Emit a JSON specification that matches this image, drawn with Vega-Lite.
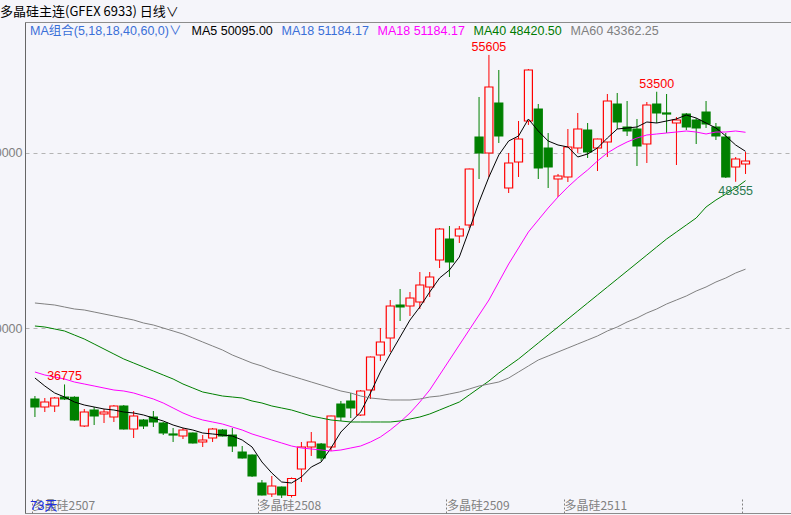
{
  "$schema": "https://vega.github.io/schema/vega-lite/v6.json",
  "width": 766,
  "height": 491,
  "autosize": {"type": "none"},
  "padding": {"left": 25, "top": 22, "right": 0, "bottom": 2},
  "background": "#f5f5fa",
  "config": {"view": {"stroke": "#8c8c8c", "fill": "#f5f5fa"}, "font": "Liberation Sans"},
  "title": {"text": "多晶硅主连(GFEX 6933)  日线∨", "anchor": "start", "frame": "group", "dx": -25, "offset": 3, "fontSize": 13, "fontWeight": "normal", "font": "Noto Sans CJK SC", "color": "#000000"},
  "datasets": {
    "k": [
      {"i":0,"o":35943,"h":36114,"l":34914,"c":35486,"MA5":37143,"MA18":37486,"MA40":40114,"MA60":41429},
      {"i":1,"o":35486,"h":36000,"l":35200,"c":35771,"MA5":36686,"MA18":37314,"MA40":40057,"MA60":41371},
      {"i":2,"o":35543,"h":36057,"l":35200,"c":36000,"MA5":36286,"MA18":37200,"MA40":39943,"MA60":41314},
      {"i":3,"o":36057,"h":36775,"l":35886,"c":35943,"MA5":36057,"MA18":37086,"MA40":39829,"MA60":41200},
      {"i":4,"o":36040,"h":36100,"l":34700,"c":34743,"MA5":35771,"MA18":36914,"MA40":39600,"MA60":41086},
      {"i":5,"o":34400,"h":35371,"l":34343,"c":35200,"MA5":35600,"MA18":36800,"MA40":39371,"MA60":41029},
      {"i":6,"o":35314,"h":35486,"l":34457,"c":34971,"MA5":35486,"MA18":36686,"MA40":39086,"MA60":40914},
      {"i":7,"o":35086,"h":35371,"l":34571,"c":35200,"MA5":35371,"MA18":36571,"MA40":38800,"MA60":40800},
      {"i":8,"o":34914,"h":35600,"l":34629,"c":35543,"MA5":35314,"MA18":36457,"MA40":38514,"MA60":40686},
      {"i":9,"o":35543,"h":35600,"l":34200,"c":34229,"MA5":35200,"MA18":36400,"MA40":38229,"MA60":40571},
      {"i":10,"o":34229,"h":35257,"l":33714,"c":34971,"MA5":35143,"MA18":36286,"MA40":38000,"MA60":40457},
      {"i":11,"o":34743,"h":34800,"l":34229,"c":34400,"MA5":35029,"MA18":36114,"MA40":37771,"MA60":40286},
      {"i":12,"o":34914,"h":35257,"l":34343,"c":34629,"MA5":34857,"MA18":35943,"MA40":37543,"MA60":40171},
      {"i":13,"o":34571,"h":34629,"l":33886,"c":34000,"MA5":34686,"MA18":35714,"MA40":37314,"MA60":40000},
      {"i":14,"o":33943,"h":34286,"l":33486,"c":33886,"MA5":34457,"MA18":35429,"MA40":37086,"MA60":39829},
      {"i":15,"o":33829,"h":34286,"l":33657,"c":34171,"MA5":34286,"MA18":35143,"MA40":36800,"MA60":39657},
      {"i":16,"o":34000,"h":34030,"l":33400,"c":33429,"MA5":34171,"MA18":34914,"MA40":36571,"MA60":39429},
      {"i":17,"o":33486,"h":33886,"l":33200,"c":33600,"MA5":34000,"MA18":34743,"MA40":36343,"MA60":39200},
      {"i":18,"o":33714,"h":34286,"l":33486,"c":34229,"MA5":33943,"MA18":34629,"MA40":36229,"MA60":38971},
      {"i":19,"o":34171,"h":34229,"l":33800,"c":33829,"MA5":33886,"MA18":34514,"MA40":36114,"MA60":38743},
      {"i":20,"o":33886,"h":34286,"l":32914,"c":33257,"MA5":33829,"MA18":34343,"MA40":36057,"MA60":38457},
      {"i":21,"o":32914,"h":33257,"l":32540,"c":32571,"MA5":33600,"MA18":34171,"MA40":36000,"MA60":38229},
      {"i":22,"o":32743,"h":32770,"l":31486,"c":31543,"MA5":33200,"MA18":33943,"MA40":35829,"MA60":38000},
      {"i":23,"o":31143,"h":31314,"l":30430,"c":30457,"MA5":32343,"MA18":33771,"MA40":35714,"MA60":37829},
      {"i":24,"o":30514,"h":31543,"l":30343,"c":30971,"MA5":31714,"MA18":33600,"MA40":35543,"MA60":37600},
      {"i":25,"o":30914,"h":30940,"l":30286,"c":30457,"MA5":31200,"MA18":33429,"MA40":35429,"MA60":37429},
      {"i":26,"o":30429,"h":31457,"l":30314,"c":31400,"MA5":31143,"MA18":33257,"MA40":35314,"MA60":37257},
      {"i":27,"o":31943,"h":33486,"l":31200,"c":33200,"MA5":31486,"MA18":33143,"MA40":35143,"MA60":37086},
      {"i":28,"o":33200,"h":34057,"l":32686,"c":33486,"MA5":32057,"MA18":33086,"MA40":34971,"MA60":36914},
      {"i":29,"o":33371,"h":33429,"l":32400,"c":32571,"MA5":32343,"MA18":33029,"MA40":34857,"MA60":36743},
      {"i":30,"o":33200,"h":34990,"l":32971,"c":34971,"MA5":33143,"MA18":32971,"MA40":34743,"MA60":36571},
      {"i":31,"o":35657,"h":35829,"l":34686,"c":34914,"MA5":34057,"MA18":33029,"MA40":34686,"MA60":36400},
      {"i":32,"o":35829,"h":36286,"l":34857,"c":35429,"MA5":34629,"MA18":33143,"MA40":34629,"MA60":36286},
      {"i":33,"o":35029,"h":36457,"l":34971,"c":36400,"MA5":35200,"MA18":33257,"MA40":34629,"MA60":36114},
      {"i":34,"o":36457,"h":38370,"l":35943,"c":38343,"MA5":36286,"MA18":33486,"MA40":34629,"MA60":36000},
      {"i":35,"o":38457,"h":40000,"l":38114,"c":39200,"MA5":37486,"MA18":33771,"MA40":34629,"MA60":35943},
      {"i":36,"o":39429,"h":41600,"l":38629,"c":41257,"MA5":38514,"MA18":34171,"MA40":34629,"MA60":35886},
      {"i":37,"o":41314,"h":42229,"l":40400,"c":41200,"MA5":39486,"MA18":34629,"MA40":34686,"MA60":35886},
      {"i":38,"o":41257,"h":42057,"l":40686,"c":41714,"MA5":40457,"MA18":35143,"MA40":34800,"MA60":35886},
      {"i":39,"o":41486,"h":43200,"l":41086,"c":42457,"MA5":41200,"MA18":35771,"MA40":34914,"MA60":35943},
      {"i":40,"o":42343,"h":43200,"l":41771,"c":42914,"MA5":42057,"MA18":36457,"MA40":35086,"MA60":36057},
      {"i":41,"o":43886,"h":45714,"l":43429,"c":45657,"MA5":42857,"MA18":37314,"MA40":35314,"MA60":36114},
      {"i":42,"o":45086,"h":45829,"l":42914,"c":43771,"MA5":43314,"MA18":38171,"MA40":35543,"MA60":36229},
      {"i":43,"o":45257,"h":45829,"l":44857,"c":45657,"MA5":44057,"MA18":39029,"MA40":35771,"MA60":36343},
      {"i":44,"o":45886,"h":49110,"l":45714,"c":49086,"MA5":45600,"MA18":39886,"MA40":36171,"MA60":36514},
      {"i":45,"o":50914,"h":53200,"l":48514,"c":50000,"MA5":47200,"MA18":40743,"MA40":36571,"MA60":36686},
      {"i":46,"o":50000,"h":55605,"l":48629,"c":53771,"MA5":48629,"MA18":41600,"MA40":36971,"MA60":36800},
      {"i":47,"o":52857,"h":54743,"l":50571,"c":50971,"MA5":49886,"MA18":42629,"MA40":37429,"MA60":36914},
      {"i":48,"o":48000,"h":50000,"l":47714,"c":49429,"MA5":50686,"MA18":43657,"MA40":37829,"MA60":37143},
      {"i":49,"o":49486,"h":51829,"l":48629,"c":50800,"MA5":50971,"MA18":44571,"MA40":38229,"MA60":37486},
      {"i":50,"o":51829,"h":54800,"l":51600,"c":54743,"MA5":51943,"MA18":45486,"MA40":38686,"MA60":37829},
      {"i":51,"o":52514,"h":52800,"l":48514,"c":49143,"MA5":51257,"MA18":46171,"MA40":39143,"MA60":38171},
      {"i":52,"o":50286,"h":51143,"l":48000,"c":49200,"MA5":50686,"MA18":46857,"MA40":39600,"MA60":38400},
      {"i":53,"o":48514,"h":48800,"l":47486,"c":48686,"MA5":50457,"MA18":47486,"MA40":40057,"MA60":38629},
      {"i":54,"o":48629,"h":51371,"l":48343,"c":50343,"MA5":50343,"MA18":48057,"MA40":40514,"MA60":38857},
      {"i":55,"o":50286,"h":52286,"l":50000,"c":51371,"MA5":49771,"MA18":48571,"MA40":40971,"MA60":39086},
      {"i":56,"o":51314,"h":51714,"l":49714,"c":50057,"MA5":49943,"MA18":49029,"MA40":41429,"MA60":39314},
      {"i":57,"o":50286,"h":50820,"l":48971,"c":50800,"MA5":50286,"MA18":49543,"MA40":41886,"MA60":39543},
      {"i":58,"o":50629,"h":53371,"l":49771,"c":52971,"MA5":50857,"MA18":50000,"MA40":42343,"MA60":39829},
      {"i":59,"o":52800,"h":53429,"l":51371,"c":51771,"MA5":51371,"MA18":50343,"MA40":42800,"MA60":40057},
      {"i":60,"o":51486,"h":52971,"l":50971,"c":51257,"MA5":51429,"MA18":50629,"MA40":43257,"MA60":40343},
      {"i":61,"o":51371,"h":51943,"l":49257,"c":50400,"MA5":51486,"MA18":50857,"MA40":43714,"MA60":40571},
      {"i":62,"o":50514,"h":52914,"l":49429,"c":52743,"MA5":51771,"MA18":51029,"MA40":44171,"MA60":40857},
      {"i":63,"o":52800,"h":53500,"l":51714,"c":52286,"MA5":51714,"MA18":51086,"MA40":44629,"MA60":41086},
      {"i":64,"o":52286,"h":53371,"l":51143,"c":52229,"MA5":51829,"MA18":51143,"MA40":45086,"MA60":41371},
      {"i":65,"o":51714,"h":52057,"l":49314,"c":51886,"MA5":51943,"MA18":51200,"MA40":45486,"MA60":41600},
      {"i":66,"o":52229,"h":52286,"l":51314,"c":51486,"MA5":52171,"MA18":51257,"MA40":45886,"MA60":41829},
      {"i":67,"o":51886,"h":52000,"l":50514,"c":51429,"MA5":52000,"MA18":51200,"MA40":46286,"MA60":42114},
      {"i":68,"o":52343,"h":52971,"l":51429,"c":51657,"MA5":51714,"MA18":51086,"MA40":46914,"MA60":42343},
      {"i":69,"o":51486,"h":51714,"l":50743,"c":50971,"MA5":51429,"MA18":51200,"MA40":47314,"MA60":42629},
      {"i":70,"o":50914,"h":51143,"l":48571,"c":48629,"MA5":50971,"MA18":51200,"MA40":47657,"MA60":42857},
      {"i":71,"o":49200,"h":49771,"l":48355,"c":49657,"MA5":50457,"MA18":51257,"MA40":48000,"MA60":43143},
      {"i":72,"o":49371,"h":50057,"l":48800,"c":49543,"MA5":50095,"MA18":51184.17,"MA40":48420.5,"MA60":43362.25}
    ],
    "peaks": [{"i":3,"p":36775},{"i":46,"p":55605},{"i":63,"p":53500}],
    "troughs": [{"i":71,"p":48355}],
    "days": [{"t":"73天"}]
  },
  "data": {"name": "k"},
  "layer": [
    {
      "mark": {"type": "rule", "strokeWidth": 1},
      "encoding": {
        "x": {"field": "i", "type": "quantitative", "scale": {"domain": [-0.5, 76.1], "nice": false, "zero": false},
          "axis": {"values": [-0.3, 22.6, 41.7, 53.6, 71.6], "labelExpr": "datum.value < 0 ? '多晶硅2507' : datum.value < 30 ? '多晶硅2508' : datum.value < 50 ? '多晶硅2509' : datum.value < 60 ? '多晶硅2511' : ''", "title": null, "domain": false, "grid": false, "tickSize": -14, "tickDash": [2, 2], "tickColor": "#808080", "labelAlign": "left", "labelBaseline": "alphabetic", "labelPadding": 10, "labelColor": "#808080", "labelFont": "Noto Sans CJK SC", "labelFontSize": 12, "labelFlush": false, "labelOverlap": false, "labelBound": false}},
        "y": {"field": "l", "type": "quantitative", "scale": {"domain": [29428.6, 57485.7], "nice": false, "zero": false},
          "axis": {"values": [40000, 50000], "title": null, "grid": true, "gridDash": [4, 4], "gridColor": "#b4b4b4", "domain": true, "domainColor": "#666666", "ticks": false, "labelColor": "#808080", "labelFontSize": 12.5, "labelPadding": 3, "format": "d"}},
        "y2": {"field": "h"},
        "color": {"condition": {"test": "datum.c >= datum.o", "value": "#ff0000"}, "value": "#008000"}
      }
    },
    {
      "mark": {"type": "bar", "width": 8, "strokeWidth": 1.2},
      "encoding": {
        "x": {"field": "i", "type": "quantitative"},
        "y": {"field": "o", "type": "quantitative"},
        "y2": {"field": "c"},
        "fill": {"condition": {"test": "datum.c >= datum.o", "value": "#f5f5fa"}, "value": "#008000"},
        "stroke": {"condition": {"test": "datum.c >= datum.o", "value": "#ff0000"}, "value": "#008000"}
      }
    },
    {
      "transform": [{"fold": ["MA5", "MA18", "MA40", "MA60"], "as": ["series", "value"]}],
      "mark": {"type": "line", "strokeWidth": 1},
      "encoding": {
        "x": {"field": "i", "type": "quantitative"},
        "y": {"field": "value", "type": "quantitative"},
        "color": {"field": "series", "type": "nominal",
          "scale": {"domain": ["MA5", "MA18 ", "MA18", "MA40", "MA60"], "range": ["#000000", "#3a6fd8", "#ff00ff", "#008000", "#808080"]},
          "legend": {"title": "MA组合(5,18,18,40,60,0)∨", "orient": "none", "legendX": 5, "legendY": 3, "direction": "horizontal", "gridAlign": "none", "titleOrient": "left", "titleColor": "#3a6fd8", "titleFontSize": 12.5, "titleFontWeight": "normal", "titleFont": "Liberation Sans, Noto Sans CJK SC", "titlePadding": 9, "titleBaseline": "middle", "labelFontSize": 12.5, "labelFont": "Liberation Sans", "labelExpr": "datum.value == 'MA5' ? 'MA5 50095.00' : datum.value == 'MA40' ? 'MA40 48420.50' : datum.value == 'MA60' ? 'MA60 43362.25' : 'MA18 51184.17'", "labelColor": {"expr": "datum.value == 'MA5' ? '#000000' : datum.value == 'MA18 ' ? '#3a6fd8' : datum.value == 'MA18' ? '#ff00ff' : datum.value == 'MA40' ? '#007a00' : '#808080'"}, "symbolSize": 0, "symbolOpacity": 0, "symbolStrokeWidth": 0, "labelOffset": -12, "columnPadding": 8, "padding": 0}
        }
      }
    },
    {
      "data": {"name": "peaks"},
      "mark": {"type": "text", "baseline": "bottom", "align": "center", "dy": -1, "color": "#ff0000", "fontSize": 12.5, "font": "Liberation Sans"},
      "encoding": {
        "x": {"field": "i", "type": "quantitative"},
        "y": {"field": "p", "type": "quantitative"},
        "text": {"field": "p", "type": "quantitative", "format": "d"}
      }
    },
    {
      "data": {"name": "troughs"},
      "mark": {"type": "text", "baseline": "top", "align": "center", "dy": 3, "color": "#2a7a50", "fontSize": 12.5, "font": "Liberation Sans"},
      "encoding": {
        "x": {"field": "i", "type": "quantitative"},
        "y": {"field": "p", "type": "quantitative"},
        "text": {"field": "p", "type": "quantitative", "format": "d"}
      }
    },
    {
      "data": {"name": "days"},
      "mark": {"type": "text", "align": "left", "baseline": "alphabetic", "color": "#2030e0", "fontSize": 13, "font": "Liberation Sans, Noto Sans CJK SC"},
      "encoding": {
        "x": {"datum": -0.5, "type": "quantitative"},
        "y": {"datum": 29600, "type": "quantitative"},
        "text": {"field": "t", "type": "nominal"}
      }
    }
  ]
}
